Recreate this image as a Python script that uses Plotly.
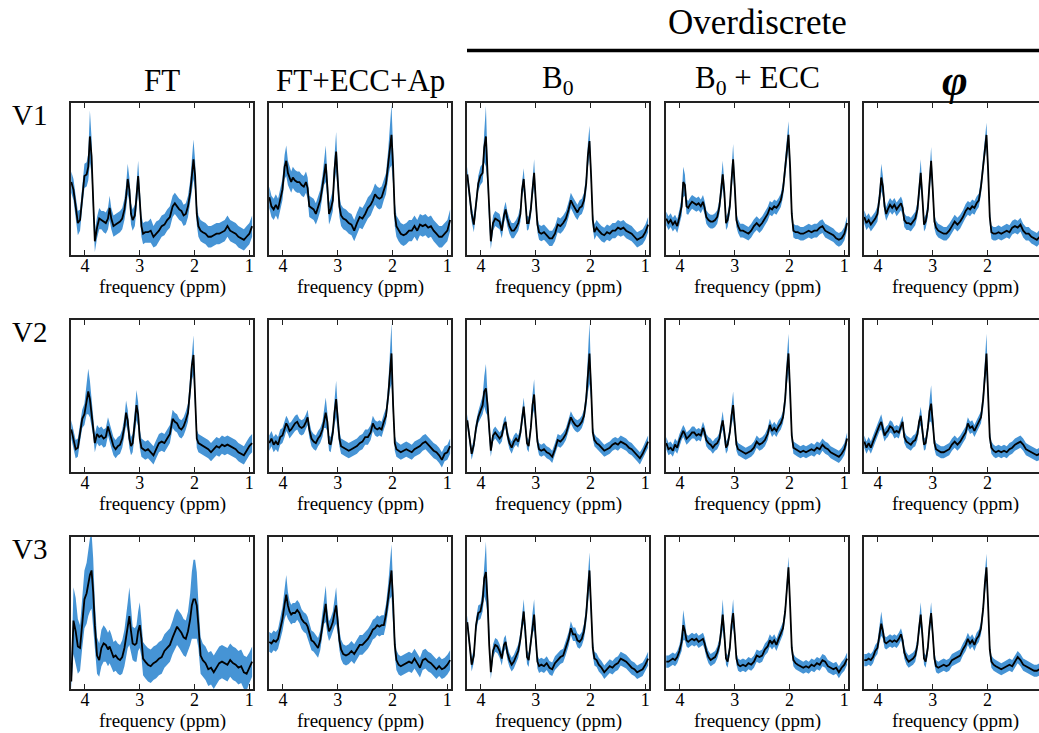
import plotly.graph_objects as go

# ---------------- data (y normalised to the box height) ----------------
PPM = [4.25, 4.21, 4.17, 4.13, 4.09, 4.05, 4.01, 3.97, 3.94, 3.91, 3.88, 3.85, 3.82,
       3.78, 3.74, 3.70, 3.66, 3.62, 3.58, 3.55, 3.52, 3.48, 3.44, 3.40, 3.36, 3.32, 3.28,
       3.25, 3.22, 3.19, 3.16, 3.13, 3.09, 3.06, 3.03, 3.00, 2.97, 2.94,
       2.90, 2.85, 2.80, 2.75, 2.70, 2.65, 2.60, 2.55, 2.50, 2.45, 2.40,
       2.36, 2.32, 2.28, 2.24, 2.20, 2.16, 2.12, 2.08, 2.05, 2.02, 1.99, 1.96, 1.93, 1.89, 1.85,
       1.80, 1.75, 1.70, 1.65, 1.60, 1.55, 1.50, 1.45, 1.40, 1.35, 1.30, 1.25, 1.20, 1.15, 1.10, 1.05, 1.00, 0.95]

COLUMN_TITLES = ["FT", "FT+ECC+Ap", "B<sub>0</sub>", "B<sub>0</sub> + ECC", "<b><i>φ</i></b>"]
ROW_TITLES = ["V1", "V2", "V3"]
GROUP_TITLE = "Overdiscrete"
TICK_VALUES = [4, 3, 2, 1]
TICK_TEXT = ["4", "3", "2", "1"]
X_TITLE = "frequency (ppm)"

# ---- V1 ----
MEAN_FT_V1 = [0.48,0.43,0.32,0.21,0.23,0.38,0.52,0.53,0.58,0.78,0.65,0.36,0.09,
              0.18,0.24,0.23,0.22,0.21,0.24,0.31,0.24,0.19,0.20,0.21,0.22,0.24,0.30,
              0.38,0.50,0.43,0.27,0.23,0.26,0.38,0.52,0.36,0.19,0.14,
              0.15,0.15,0.16,0.12,0.14,0.16,0.19,0.20,0.23,0.25,0.32,
              0.34,0.32,0.30,0.29,0.26,0.27,0.32,0.41,0.52,0.63,0.52,0.27,0.19,0.16,0.15,
              0.14,0.12,0.12,0.13,0.14,0.14,0.15,0.16,0.19,0.16,0.15,0.14,0.12,0.11,0.10,0.12,0.14,0.19]
SPREAD_FT_V1 = [0.07,0.07,0.07,0.08,0.07,0.07,0.08,0.08,0.09,0.17,0.12,0.08,0.07,
                0.07,0.07,0.06,0.07,0.07,0.07,0.08,0.07,0.07,0.07,0.07,0.07,0.07,0.07,
                0.08,0.10,0.08,0.07,0.07,0.07,0.08,0.10,0.08,0.07,0.07,
                0.07,0.07,0.08,0.07,0.08,0.07,0.07,0.07,0.07,0.07,0.07,
                0.07,0.07,0.07,0.07,0.07,0.07,0.07,0.08,0.10,0.13,0.10,0.07,0.07,0.07,0.07,
                0.07,0.07,0.07,0.07,0.07,0.07,0.07,0.07,0.07,0.07,0.07,0.07,0.07,0.07,0.07,0.07,0.07,0.07]

MEAN_FTECC_V1 = [0.38,0.32,0.30,0.33,0.30,0.36,0.43,0.58,0.62,0.54,0.51,0.48,0.51,
                 0.49,0.48,0.48,0.46,0.45,0.48,0.44,0.32,0.31,0.30,0.27,0.31,0.36,0.45,
                 0.54,0.60,0.45,0.27,0.30,0.36,0.56,0.68,0.49,0.32,0.26,
                 0.24,0.23,0.21,0.20,0.16,0.21,0.25,0.24,0.27,0.31,0.33,
                 0.36,0.40,0.38,0.37,0.38,0.43,0.47,0.60,0.71,0.79,0.58,0.27,0.19,0.16,0.14,
                 0.13,0.14,0.16,0.16,0.19,0.16,0.20,0.19,0.20,0.18,0.19,0.16,0.14,0.12,0.12,0.14,0.16,0.23]
SPREAD_FTECC_V1 = [0.07,0.07,0.07,0.07,0.07,0.07,0.07,0.08,0.10,0.08,0.07,0.07,0.07,
                   0.07,0.07,0.07,0.07,0.07,0.07,0.07,0.07,0.07,0.07,0.07,0.07,0.07,0.07,
                   0.08,0.12,0.08,0.07,0.07,0.07,0.09,0.13,0.08,0.07,0.07,
                   0.07,0.07,0.07,0.07,0.07,0.07,0.07,0.07,0.07,0.07,0.07,
                   0.07,0.07,0.07,0.07,0.07,0.07,0.07,0.09,0.14,0.20,0.12,0.08,0.07,0.07,0.07,
                   0.07,0.07,0.07,0.07,0.07,0.07,0.07,0.07,0.07,0.07,0.07,0.07,0.07,0.07,0.07,0.07,0.07,0.07]

MEAN_B0_V1 = [0.53,0.41,0.27,0.20,0.32,0.47,0.52,0.54,0.71,0.78,0.54,0.25,0.09,
              0.21,0.24,0.23,0.22,0.16,0.26,0.30,0.24,0.19,0.16,0.16,0.18,0.21,0.27,
              0.43,0.50,0.36,0.21,0.21,0.30,0.43,0.54,0.36,0.20,0.15,
              0.14,0.15,0.13,0.11,0.11,0.14,0.20,0.19,0.21,0.24,0.30,
              0.36,0.33,0.30,0.28,0.31,0.32,0.36,0.47,0.65,0.75,0.52,0.23,0.15,0.18,0.16,
              0.14,0.13,0.15,0.14,0.16,0.16,0.18,0.17,0.18,0.16,0.15,0.14,0.12,0.10,0.11,0.12,0.15,0.20]
SPREAD_B0_V1 = [0.05,0.05,0.05,0.05,0.05,0.05,0.06,0.06,0.10,0.20,0.08,0.05,0.05,
                0.05,0.05,0.05,0.05,0.05,0.05,0.05,0.05,0.05,0.05,0.05,0.05,0.05,0.05,
                0.05,0.07,0.05,0.05,0.04,0.05,0.06,0.09,0.05,0.05,0.05,
                0.05,0.05,0.05,0.05,0.05,0.05,0.05,0.05,0.05,0.05,0.05,
                0.05,0.05,0.05,0.05,0.05,0.05,0.05,0.06,0.08,0.10,0.07,0.05,0.05,0.05,0.05,
                0.05,0.05,0.05,0.05,0.05,0.05,0.05,0.05,0.05,0.05,0.05,0.05,0.05,0.05,0.05,0.05,0.05,0.05]

MEAN_B0ECC_V1 = [0.24,0.21,0.23,0.20,0.22,0.19,0.25,0.32,0.48,0.46,0.32,0.31,0.33,
                 0.35,0.34,0.33,0.34,0.32,0.35,0.31,0.25,0.23,0.22,0.22,0.23,0.25,0.32,
                 0.42,0.53,0.41,0.21,0.23,0.32,0.49,0.63,0.45,0.23,0.19,
                 0.16,0.16,0.15,0.14,0.16,0.19,0.21,0.19,0.21,0.24,0.27,
                 0.31,0.30,0.32,0.31,0.33,0.36,0.43,0.58,0.69,0.79,0.58,0.27,0.16,0.15,0.15,
                 0.14,0.14,0.15,0.16,0.15,0.16,0.16,0.18,0.19,0.16,0.15,0.14,0.13,0.11,0.10,0.11,0.14,0.21]
SPREAD_B0ECC_V1 = [0.045,0.045,0.045,0.045,0.045,0.045,0.05,0.06,0.10,0.07,0.05,0.045,0.045,
                   0.045,0.045,0.045,0.045,0.045,0.045,0.045,0.045,0.045,0.045,0.045,0.045,0.045,0.045,
                   0.06,0.09,0.06,0.045,0.045,0.05,0.07,0.10,0.06,0.045,0.045,
                   0.045,0.045,0.045,0.045,0.045,0.045,0.045,0.045,0.045,0.045,0.045,
                   0.045,0.045,0.045,0.045,0.045,0.045,0.05,0.06,0.08,0.09,0.07,0.05,0.045,0.045,0.045,
                   0.045,0.045,0.045,0.045,0.045,0.045,0.045,0.045,0.045,0.045,0.045,0.045,0.045,0.045,0.045,0.045,0.045,0.045]

MEAN_PHI_V1 = [0.25,0.21,0.23,0.20,0.22,0.24,0.27,0.38,0.51,0.45,0.32,0.27,0.30,
               0.33,0.31,0.33,0.30,0.32,0.34,0.31,0.23,0.21,0.21,0.20,0.22,0.24,0.30,
               0.41,0.54,0.38,0.20,0.22,0.30,0.47,0.62,0.43,0.22,0.18,
               0.16,0.15,0.14,0.14,0.16,0.19,0.22,0.20,0.22,0.25,0.29,
               0.31,0.30,0.32,0.31,0.34,0.36,0.45,0.60,0.71,0.79,0.56,0.25,0.15,0.14,0.14,
               0.15,0.14,0.15,0.16,0.15,0.18,0.19,0.18,0.20,0.16,0.14,0.14,0.12,0.11,0.10,0.12,0.14,0.18]
SPREAD_PHI_V1 = [0.045,0.045,0.045,0.045,0.045,0.045,0.05,0.06,0.09,0.07,0.05,0.045,0.045,
                 0.045,0.045,0.045,0.045,0.045,0.045,0.045,0.045,0.045,0.045,0.045,0.045,0.045,0.045,
                 0.06,0.09,0.06,0.045,0.045,0.05,0.07,0.09,0.06,0.045,0.045,
                 0.045,0.045,0.045,0.045,0.045,0.045,0.045,0.045,0.045,0.045,0.045,
                 0.045,0.045,0.045,0.045,0.045,0.045,0.05,0.06,0.07,0.08,0.06,0.05,0.045,0.045,0.045,
                 0.045,0.045,0.045,0.045,0.045,0.045,0.045,0.045,0.045,0.045,0.045,0.045,0.045,0.045,0.045,0.045,0.045,0.045]

# ---- V2 ----
MEAN_FT_V2 = [0.28,0.22,0.15,0.16,0.26,0.35,0.38,0.48,0.53,0.48,0.39,0.30,0.19,
              0.25,0.23,0.24,0.22,0.23,0.30,0.26,0.22,0.17,0.15,0.17,0.18,0.22,0.30,
              0.39,0.34,0.22,0.17,0.19,0.33,0.44,0.38,0.22,0.16,0.15,
              0.14,0.15,0.13,0.11,0.15,0.19,0.20,0.19,0.22,0.25,0.35,
              0.33,0.32,0.29,0.28,0.30,0.34,0.39,0.55,0.70,0.77,0.46,0.22,0.19,0.18,0.17,
              0.16,0.15,0.13,0.15,0.17,0.16,0.18,0.17,0.18,0.17,0.16,0.15,0.13,0.12,0.11,0.14,0.17,0.19]
SPREAD_FT_V2 = [0.06,0.06,0.06,0.06,0.06,0.06,0.07,0.10,0.15,0.12,0.08,0.06,0.06,
                0.06,0.06,0.06,0.06,0.06,0.06,0.06,0.06,0.06,0.06,0.06,0.06,0.06,0.06,
                0.08,0.07,0.06,0.06,0.06,0.08,0.10,0.08,0.06,0.06,0.06,
                0.06,0.06,0.06,0.06,0.06,0.06,0.06,0.06,0.06,0.06,0.06,
                0.06,0.06,0.06,0.06,0.06,0.06,0.06,0.08,0.10,0.13,0.09,0.06,0.06,0.06,0.06,
                0.06,0.06,0.06,0.06,0.06,0.06,0.06,0.06,0.06,0.06,0.06,0.06,0.06,0.06,0.06,0.06,0.06,0.06]

MEAN_FTECC_V2 = [0.19,0.22,0.18,0.20,0.18,0.23,0.24,0.28,0.32,0.30,0.27,0.28,0.30,
                 0.32,0.33,0.30,0.29,0.30,0.33,0.36,0.28,0.22,0.20,0.19,0.22,0.24,0.28,
                 0.35,0.39,0.33,0.19,0.18,0.26,0.39,0.48,0.35,0.22,0.17,
                 0.16,0.15,0.14,0.15,0.16,0.17,0.19,0.20,0.23,0.23,0.26,
                 0.32,0.29,0.28,0.29,0.28,0.33,0.37,0.50,0.66,0.78,0.44,0.19,0.15,0.14,0.13,
                 0.14,0.15,0.14,0.13,0.15,0.16,0.17,0.19,0.20,0.18,0.16,0.14,0.13,0.11,0.08,0.12,0.13,0.17]
SPREAD_FTECC_V2 = [0.05,0.05,0.05,0.05,0.05,0.05,0.05,0.05,0.05,0.05,0.05,0.05,0.05,
                   0.05,0.05,0.05,0.05,0.05,0.05,0.05,0.05,0.05,0.05,0.05,0.05,0.05,0.05,
                   0.06,0.10,0.06,0.05,0.05,0.05,0.08,0.12,0.07,0.05,0.05,
                   0.05,0.05,0.05,0.05,0.05,0.05,0.05,0.05,0.05,0.05,0.05,
                   0.05,0.05,0.05,0.05,0.05,0.05,0.05,0.07,0.12,0.20,0.10,0.05,0.05,0.05,0.05,
                   0.05,0.05,0.05,0.05,0.05,0.05,0.05,0.05,0.05,0.05,0.05,0.05,0.05,0.05,0.05,0.05,0.05,0.05]

MEAN_B0_V2 = [0.34,0.22,0.12,0.18,0.29,0.36,0.40,0.44,0.53,0.55,0.44,0.26,0.14,
              0.24,0.26,0.24,0.22,0.24,0.31,0.33,0.25,0.19,0.16,0.20,0.22,0.20,0.26,
              0.35,0.43,0.31,0.19,0.17,0.29,0.44,0.51,0.35,0.20,0.15,
              0.14,0.15,0.13,0.12,0.10,0.15,0.21,0.20,0.22,0.25,0.31,
              0.36,0.33,0.31,0.30,0.31,0.33,0.37,0.48,0.64,0.78,0.55,0.26,0.21,0.19,0.18,
              0.16,0.14,0.15,0.16,0.18,0.19,0.18,0.20,0.19,0.18,0.16,0.15,0.13,0.11,0.09,0.12,0.16,0.20]
SPREAD_B0_V2 = [0.04,0.04,0.04,0.04,0.04,0.04,0.05,0.06,0.10,0.16,0.07,0.04,0.04,
                0.04,0.04,0.04,0.04,0.04,0.04,0.04,0.04,0.04,0.04,0.04,0.04,0.04,0.04,
                0.05,0.06,0.05,0.04,0.04,0.04,0.07,0.10,0.05,0.04,0.04,
                0.04,0.04,0.04,0.04,0.04,0.04,0.04,0.04,0.04,0.04,0.04,
                0.04,0.04,0.04,0.04,0.04,0.04,0.04,0.06,0.12,0.20,0.08,0.04,0.04,0.04,0.04,
                0.04,0.04,0.04,0.04,0.04,0.04,0.04,0.04,0.04,0.04,0.04,0.04,0.04,0.04,0.04,0.04,0.04,0.04]

MEAN_B0ECC_V2 = [0.19,0.15,0.16,0.14,0.18,0.16,0.21,0.25,0.27,0.25,0.22,0.23,0.24,
                 0.26,0.26,0.24,0.25,0.24,0.29,0.26,0.21,0.19,0.18,0.16,0.18,0.19,0.22,
                 0.29,0.34,0.26,0.16,0.18,0.26,0.37,0.44,0.31,0.18,0.15,
                 0.14,0.13,0.12,0.13,0.14,0.16,0.20,0.18,0.19,0.21,0.25,
                 0.31,0.27,0.29,0.27,0.30,0.32,0.36,0.48,0.66,0.78,0.53,0.24,0.16,0.15,0.14,
                 0.13,0.14,0.13,0.14,0.15,0.14,0.16,0.15,0.18,0.16,0.15,0.13,0.12,0.11,0.10,0.12,0.15,0.22]
SPREAD_B0ECC_V2 = [0.04,0.04,0.04,0.04,0.04,0.04,0.04,0.04,0.04,0.04,0.04,0.04,0.04,
                   0.04,0.04,0.04,0.04,0.04,0.04,0.04,0.04,0.04,0.04,0.04,0.04,0.04,0.04,
                   0.04,0.06,0.04,0.04,0.04,0.04,0.06,0.09,0.05,0.04,0.04,
                   0.04,0.04,0.04,0.04,0.04,0.04,0.04,0.04,0.04,0.04,0.04,
                   0.04,0.04,0.04,0.04,0.04,0.04,0.04,0.06,0.09,0.13,0.07,0.04,0.04,0.04,0.04,
                   0.04,0.04,0.04,0.04,0.04,0.04,0.04,0.04,0.04,0.04,0.04,0.04,0.04,0.04,0.04,0.04,0.04,0.04]

MEAN_PHI_V2 = [0.20,0.16,0.19,0.16,0.20,0.24,0.27,0.31,0.33,0.29,0.24,0.26,0.27,
               0.30,0.29,0.26,0.27,0.26,0.31,0.33,0.23,0.20,0.19,0.18,0.20,0.21,0.25,
               0.33,0.37,0.29,0.18,0.19,0.29,0.40,0.45,0.33,0.19,0.15,
               0.14,0.13,0.13,0.14,0.15,0.18,0.20,0.18,0.20,0.23,0.26,
               0.32,0.29,0.30,0.27,0.30,0.33,0.36,0.48,0.66,0.78,0.51,0.23,0.16,0.14,0.13,
               0.14,0.13,0.14,0.13,0.15,0.16,0.18,0.19,0.20,0.18,0.15,0.14,0.13,0.12,0.11,0.12,0.14,0.18]
SPREAD_PHI_V2 = [0.04,0.04,0.04,0.04,0.04,0.04,0.04,0.04,0.05,0.04,0.04,0.04,0.04,
                 0.04,0.04,0.04,0.04,0.04,0.04,0.04,0.04,0.04,0.04,0.04,0.04,0.04,0.04,
                 0.05,0.06,0.05,0.04,0.04,0.04,0.07,0.12,0.06,0.04,0.04,
                 0.04,0.04,0.04,0.04,0.04,0.04,0.04,0.04,0.04,0.04,0.04,
                 0.04,0.04,0.04,0.04,0.04,0.04,0.04,0.06,0.09,0.13,0.07,0.04,0.04,0.04,0.04,
                 0.04,0.04,0.04,0.04,0.04,0.04,0.04,0.04,0.04,0.04,0.04,0.04,0.04,0.04,0.04,0.04,0.04,0.04]

# ---- V3 ----
MEAN_FT_V3 = [0.05,0.45,0.38,0.28,0.27,0.44,0.59,0.63,0.70,0.75,0.78,0.64,0.42,
              0.22,0.19,0.27,0.30,0.29,0.26,0.28,0.25,0.21,0.22,0.20,0.19,0.21,0.27,
              0.34,0.42,0.48,0.38,0.30,0.29,0.30,0.38,0.42,0.33,0.20,
              0.18,0.16,0.15,0.17,0.18,0.20,0.21,0.25,0.27,0.29,0.34,
              0.38,0.41,0.39,0.37,0.34,0.33,0.38,0.46,0.55,0.59,0.59,0.55,0.42,0.22,0.19,
              0.17,0.13,0.14,0.11,0.14,0.17,0.18,0.17,0.16,0.19,0.17,0.16,0.14,0.15,0.11,0.10,0.14,0.18]
SPREAD_FT_V3 = [0.05,0.22,0.22,0.18,0.15,0.17,0.19,0.20,0.22,0.24,0.25,0.22,0.15,
                0.12,0.11,0.12,0.12,0.11,0.11,0.11,0.11,0.10,0.10,0.10,0.10,0.11,0.12,
                0.13,0.15,0.19,0.14,0.11,0.11,0.12,0.13,0.15,0.12,0.11,
                0.11,0.11,0.11,0.11,0.11,0.11,0.11,0.11,0.11,0.11,0.11,
                0.12,0.12,0.12,0.12,0.12,0.12,0.13,0.17,0.22,0.26,0.26,0.22,0.15,0.12,0.11,
                0.11,0.11,0.11,0.11,0.11,0.11,0.11,0.11,0.11,0.11,0.11,0.11,0.11,0.11,0.11,0.11,0.10,0.10]

MEAN_FTECC_V3 = [0.31,0.30,0.32,0.31,0.33,0.40,0.46,0.56,0.62,0.55,0.51,0.49,0.50,
                 0.50,0.52,0.50,0.46,0.44,0.43,0.41,0.37,0.32,0.31,0.29,0.27,0.32,0.42,
                 0.51,0.56,0.44,0.38,0.40,0.44,0.50,0.55,0.44,0.32,0.26,
                 0.23,0.22,0.23,0.25,0.23,0.26,0.29,0.29,0.31,0.33,0.36,
                 0.39,0.40,0.42,0.41,0.42,0.42,0.49,0.60,0.71,0.78,0.57,0.29,0.19,0.16,0.15,
                 0.16,0.17,0.18,0.17,0.20,0.17,0.14,0.19,0.20,0.18,0.17,0.15,0.13,0.15,0.13,0.14,0.16,0.19]
SPREAD_FTECC_V3 = [0.065,0.065,0.065,0.065,0.065,0.07,0.08,0.10,0.13,0.09,0.07,0.065,0.065,
                   0.065,0.065,0.065,0.065,0.065,0.065,0.065,0.065,0.065,0.065,0.065,0.065,0.065,0.065,
                   0.08,0.12,0.08,0.065,0.065,0.07,0.09,0.12,0.08,0.065,0.065,
                   0.065,0.065,0.065,0.065,0.065,0.065,0.065,0.065,0.065,0.065,0.065,
                   0.065,0.065,0.065,0.065,0.065,0.065,0.07,0.09,0.12,0.17,0.10,0.07,0.065,0.065,0.065,
                   0.065,0.065,0.065,0.065,0.065,0.065,0.065,0.065,0.065,0.065,0.065,0.065,0.065,0.065,0.065,0.065,0.065,0.065]

MEAN_B0_V3 = [0.44,0.31,0.16,0.22,0.42,0.50,0.51,0.58,0.73,0.77,0.58,0.29,0.11,
              0.25,0.29,0.28,0.25,0.20,0.29,0.31,0.24,0.19,0.16,0.18,0.21,0.25,0.33,
              0.44,0.51,0.38,0.21,0.19,0.31,0.43,0.49,0.33,0.18,0.15,
              0.16,0.15,0.17,0.14,0.13,0.17,0.19,0.21,0.22,0.27,0.33,
              0.40,0.36,0.36,0.32,0.31,0.33,0.38,0.49,0.64,0.78,0.53,0.27,0.20,0.19,0.16,
              0.14,0.11,0.13,0.15,0.14,0.16,0.17,0.20,0.19,0.18,0.16,0.14,0.13,0.11,0.12,0.13,0.16,0.20]
SPREAD_B0_V3 = [0.045,0.045,0.045,0.045,0.045,0.05,0.05,0.07,0.12,0.20,0.09,0.05,0.045,
                0.045,0.045,0.045,0.045,0.045,0.045,0.045,0.045,0.045,0.045,0.045,0.045,0.045,0.045,
                0.05,0.08,0.05,0.045,0.045,0.045,0.07,0.10,0.06,0.045,0.045,
                0.045,0.045,0.045,0.045,0.045,0.045,0.045,0.045,0.045,0.045,0.045,
                0.045,0.045,0.045,0.045,0.045,0.045,0.05,0.06,0.09,0.12,0.07,0.05,0.045,0.045,0.045,
                0.045,0.045,0.045,0.045,0.045,0.045,0.045,0.045,0.045,0.045,0.045,0.045,0.045,0.045,0.045,0.045,0.045,0.045]

MEAN_B0ECC_V3 = [0.18,0.18,0.19,0.20,0.19,0.21,0.25,0.31,0.42,0.38,0.32,0.31,0.32,
                 0.33,0.32,0.33,0.31,0.32,0.33,0.30,0.25,0.21,0.19,0.20,0.21,0.24,0.29,
                 0.38,0.49,0.36,0.20,0.18,0.27,0.42,0.50,0.36,0.20,0.16,
                 0.15,0.16,0.15,0.17,0.16,0.18,0.22,0.21,0.22,0.26,0.28,
                 0.32,0.30,0.32,0.29,0.33,0.36,0.40,0.51,0.67,0.80,0.55,0.27,0.19,0.17,0.16,
                 0.15,0.14,0.15,0.14,0.16,0.15,0.17,0.16,0.19,0.18,0.15,0.14,0.13,0.14,0.11,0.14,0.16,0.20]
SPREAD_B0ECC_V3 = [0.04,0.04,0.04,0.04,0.04,0.04,0.04,0.06,0.10,0.06,0.04,0.04,0.04,
                   0.04,0.04,0.04,0.04,0.04,0.04,0.04,0.04,0.04,0.04,0.04,0.04,0.04,0.04,
                   0.06,0.10,0.06,0.04,0.04,0.04,0.06,0.09,0.05,0.04,0.04,
                   0.04,0.04,0.04,0.04,0.04,0.04,0.04,0.04,0.04,0.04,0.04,
                   0.04,0.04,0.04,0.04,0.04,0.04,0.04,0.05,0.06,0.07,0.05,0.04,0.04,0.04,0.04,
                   0.04,0.04,0.04,0.04,0.04,0.04,0.04,0.04,0.04,0.04,0.04,0.04,0.04,0.04,0.04,0.04,0.04,0.04]

MEAN_PHI_V3 = [0.19,0.19,0.20,0.19,0.21,0.25,0.27,0.36,0.43,0.38,0.31,0.30,0.31,
               0.32,0.31,0.32,0.31,0.33,0.36,0.32,0.24,0.20,0.18,0.19,0.20,0.22,0.29,
               0.40,0.49,0.36,0.20,0.18,0.27,0.41,0.50,0.36,0.20,0.15,
               0.14,0.15,0.16,0.15,0.16,0.19,0.20,0.21,0.22,0.26,0.29,
               0.33,0.30,0.32,0.29,0.33,0.35,0.40,0.53,0.69,0.80,0.55,0.26,0.18,0.16,0.15,
               0.14,0.13,0.14,0.15,0.16,0.15,0.18,0.21,0.19,0.16,0.15,0.14,0.13,0.12,0.12,0.13,0.15,0.18]
SPREAD_PHI_V3 = [0.04,0.04,0.04,0.04,0.04,0.04,0.04,0.05,0.08,0.05,0.04,0.04,0.04,
                 0.04,0.04,0.04,0.04,0.04,0.04,0.04,0.04,0.04,0.04,0.04,0.04,0.04,0.04,
                 0.05,0.08,0.05,0.04,0.04,0.04,0.05,0.07,0.05,0.04,0.04,
                 0.04,0.04,0.04,0.04,0.04,0.04,0.04,0.04,0.04,0.04,0.04,
                 0.04,0.04,0.04,0.04,0.04,0.04,0.04,0.05,0.07,0.09,0.06,0.04,0.04,0.04,0.04,
                 0.04,0.04,0.04,0.04,0.04,0.04,0.04,0.04,0.04,0.04,0.04,0.04,0.04,0.04,0.04,0.04,0.04,0.04]

PANELS = [
    [(MEAN_FT_V1, SPREAD_FT_V1), (MEAN_FTECC_V1, SPREAD_FTECC_V1), (MEAN_B0_V1, SPREAD_B0_V1),
     (MEAN_B0ECC_V1, SPREAD_B0ECC_V1), (MEAN_PHI_V1, SPREAD_PHI_V1)],
    [(MEAN_FT_V2, SPREAD_FT_V2), (MEAN_FTECC_V2, SPREAD_FTECC_V2), (MEAN_B0_V2, SPREAD_B0_V2),
     (MEAN_B0ECC_V2, SPREAD_B0ECC_V2), (MEAN_PHI_V2, SPREAD_PHI_V2)],
    [(MEAN_FT_V3, SPREAD_FT_V3), (MEAN_FTECC_V3, SPREAD_FTECC_V3), (MEAN_B0_V3, SPREAD_B0_V3),
     (MEAN_B0ECC_V3, SPREAD_B0ECC_V3), (MEAN_PHI_V3, SPREAD_PHI_V3)],
]

# ---------------- layout ----------------
W, H = 1039, 733
COL_LEFT = [71, 269, 467, 666, 864]
COL_W = 182
ROW_TOP = [103, 320, 537]
ROW_H = 152
PX_PER_PPM = 54.8
PPM_LEFT = 4.255
FONT = "Liberation Serif"
BAND = "#4694d5"
AX = "#222222"

fig = go.Figure()
layout = {}
annotations = []

for r in range(3):
    for c in range(5):
        i = r * 5 + c + 1
        xn = "x" if i == 1 else f"x{i}"
        yn = "y" if i == 1 else f"y{i}"
        xk = "xaxis" if i == 1 else f"xaxis{i}"
        yk = "yaxis" if i == 1 else f"yaxis{i}"
        mean, spread = PANELS[r][c]
        assert len(mean) == len(PPM) and len(spread) == len(PPM), (r, c, len(mean), len(spread))
        upper = [m + s for m, s in zip(mean, spread)]
        lower = [m - s for m, s in zip(mean, spread)]
        fig.add_trace(go.Scatter(x=PPM + PPM[::-1], y=upper + lower[::-1], fill="toself",
                                 fillcolor=BAND, mode="lines", line=dict(width=0, color=BAND),
                                 xaxis=xn, yaxis=yn, hoverinfo="skip", showlegend=False))
        fig.add_trace(go.Scatter(x=PPM, y=mean, mode="lines", line=dict(color="black", width=1.8),
                                 xaxis=xn, yaxis=yn, hoverinfo="skip", showlegend=False))

        left_px = COL_LEFT[c]
        right_px = min(COL_LEFT[c] + COL_W, W)
        x0, x1 = left_px / W, right_px / W
        y1 = 1 - ROW_TOP[r] / H
        y0 = 1 - (ROW_TOP[r] + ROW_H) / H
        ppm_right = PPM_LEFT - (right_px - left_px) / PX_PER_PPM
        tv = [t for t in TICK_VALUES if t >= ppm_right]
        tt = [TICK_TEXT[k] for k, t in enumerate(TICK_VALUES) if t >= ppm_right]
        layout[xk] = dict(domain=[x0, x1], range=[PPM_LEFT, ppm_right], anchor=yn,
                          tickmode="array", tickvals=tv, ticktext=tt,
                          ticks="inside", ticklen=5, tickwidth=1.4, tickcolor=AX,
                          showline=True, linecolor=AX, linewidth=1.6, mirror="allticks",
                          showgrid=False, zeroline=False, ticklabelstandoff=-6,
                          tickfont=dict(family=FONT, size=18, color="black"))
        layout[yk] = dict(domain=[y0, y1], range=[0, 1], anchor=xn,
                          showline=True, linecolor=AX, linewidth=1.6, mirror=(c < 4),
                          showticklabels=False, ticks="", showgrid=False, zeroline=False)
        annotations.append(dict(text=X_TITLE, x=(left_px + COL_W / 2) / W,
                                y=1 - (ROW_TOP[r] + 184) / H, xref="paper", yref="paper",
                                xanchor="center", yanchor="middle", showarrow=False,
                                font=dict(family=FONT, size=19, color="black")))

for c, t in enumerate(COLUMN_TITLES):
    size = 44 if c == 4 else 31
    annotations.append(dict(text=t, x=(COL_LEFT[c] + COL_W / 2) / W, y=1 - 80 / H,
                            xref="paper", yref="paper", xanchor="center", yanchor="middle",
                            showarrow=False, font=dict(family=FONT, size=size, color="black")))
for r, t in enumerate(ROW_TITLES):
    annotations.append(dict(text=t, x=29 / W, y=1 - (ROW_TOP[r] + 12) / H,
                            xref="paper", yref="paper", xanchor="center", yanchor="middle",
                            showarrow=False, font=dict(family=FONT, size=29, color="black")))
annotations.append(dict(text=GROUP_TITLE, x=757 / W, y=1 - 23 / H, xref="paper", yref="paper",
                        xanchor="center", yanchor="middle", showarrow=False,
                        font=dict(family=FONT, size=35, color="black")))

fig.update_layout(width=W, height=H, margin=dict(l=0, r=0, t=0, b=0),
                  paper_bgcolor="white", plot_bgcolor="white", showlegend=False,
                  annotations=annotations,
                  shapes=[dict(type="line", xref="paper", yref="paper", x0=467 / W, x1=1.0,
                               y0=1 - 50.5 / H, y1=1 - 50.5 / H,
                               line=dict(color="black", width=3.5))],
                  **layout)

fig.write_html("out.html")
